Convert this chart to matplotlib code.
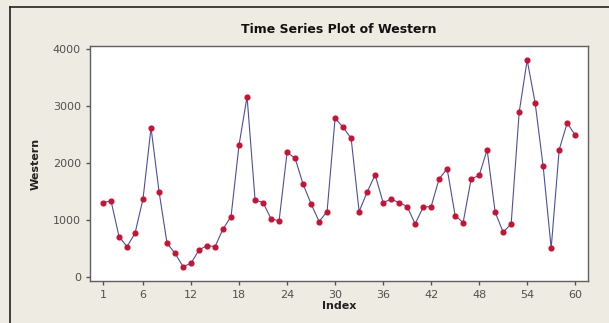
import matplotlib.pyplot as plt
from matplotlib.lines import Line2D

# Monthly values for the Western series
index = list(range(1, 61))
western = [1310, 1340, 714, 538, 772, 1375, 2621, 1503, 597, 421,
           187, 246, 480, 556, 538, 848, 1065, 2322, 3165, 1357,
           1310, 1024, 989, 2188, 2088, 1632, 1287, 977, 1152, 2790,
           2627, 2439, 1152, 1492, 1796, 1310, 1369, 1310, 1240, 936,
           1228, 1240, 1726, 1901, 1082, 959, 1726, 1784, 2235, 1141,
           790, 936, 2890, 3808, 3054, 1942, 509, 2235, 2703, 2492]
x_ticks = [1, 6, 12, 18, 24, 30, 36, 42, 48, 54, 60]
y_ticks = [0, 1000, 2000, 3000, 4000]

bg = '#eeebe3'
fig = plt.figure(figsize=(6.09, 3.23), dpi=100, facecolor=bg)
ax = fig.add_axes([0.1478, 0.130, 0.8177, 0.7276])
ax.set_facecolor('white')

ax.plot(index, western, color='#4a4fa8', linewidth=0.8,
        marker='o', markersize=3.4, markerfacecolor='#cc1030',
        markeredgecolor='#cc1030', zorder=3)

ax.set_xlim(-0.625, 61.6)
ax.set_ylim(-65, 4053)
ax.set_xticks(x_ticks)
ax.set_yticks(y_ticks)
ax.tick_params(axis='both', labelsize=8, colors='#555555', length=3,
               width=1, labelcolor='#505050')
for s in ax.spines.values():
    s.set_color('#606060')
    s.set_linewidth(1)

ax.set_title('Time Series Plot of Western', fontsize=9, fontweight='bold',
             color='#111111', pad=9)
ax.set_xlabel('Index', fontsize=8, fontweight='bold', color='#222222',
              labelpad=1)
ax.set_ylabel('Western', fontsize=8, fontweight='bold', color='#222222',
              labelpad=9)

# outer frame edges
fig.add_artist(Line2D([10 / 609, 1], [1 - 7 / 323, 1 - 7 / 323],
                      color='#222222', linewidth=1.2, transform=fig.transFigure))
fig.add_artist(Line2D([10 / 609, 10 / 609], [0, 1 - 7 / 323],
                      color='#222222', linewidth=1.2, transform=fig.transFigure))

fig.savefig('out.png', dpi=100, facecolor=bg)
